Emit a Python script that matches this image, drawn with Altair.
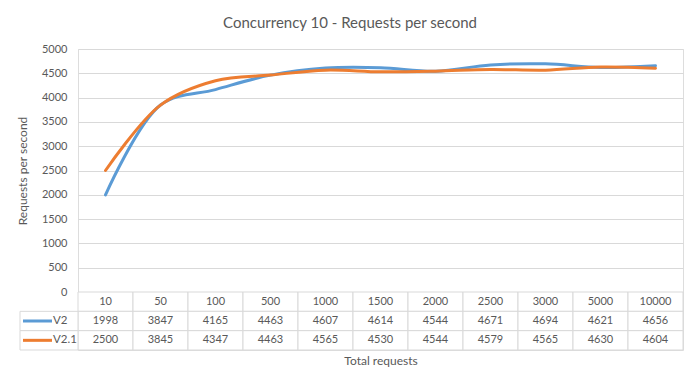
import altair as alt
import pandas as pd

categories = ["10", "50", "100", "500", "1000", "1500", "2000", "2500", "3000", "5000", "10000"]
v2 = [1998, 3847, 4165, 4463, 4607, 4614, 4544, 4671, 4694, 4621, 4656]
v21 = [2500, 3845, 4347, 4463, 4565, 4530, 4544, 4579, 4565, 4630, 4604]
series_names = ["V2", "V2.1"]
series_colors = ["#5B9BD5", "#ED7D31"]
y_ticks = list(range(0, 5001, 500))

GRID = "#D9D9D9"
TXT = "#595959"
FONT = "Lato"
W = 605
H = 243
TABLE_H = 58
N = len(categories)
LEGEND_COL = -58 / 55  # legend column width in column units

# ---- line chart ----
long = pd.DataFrame({
    "cat": categories * 2,
    "series": [series_names[0]] * N + [series_names[1]] * N,
    "value": v2 + v21,
})
color_scale = alt.Scale(domain=series_names, range=series_colors)

lines = alt.Chart(long).mark_line(
    strokeWidth=3, interpolate="catmull-rom", strokeCap="round"
).encode(
    x=alt.X("cat:N", sort=categories, scale=alt.Scale(type="point", padding=0.5), axis=None),
    y=alt.Y("value:Q", scale=alt.Scale(domain=[0, 5000], nice=False),
            axis=alt.Axis(values=y_ticks, format="d", title="Requests per second", domain=False,
                          ticks=False, gridColor=GRID, labelColor=TXT, labelFontSize=11,
                          labelPadding=11, titleColor=TXT, titleFontSize=12,
                          titleFontWeight="normal", titlePadding=12)),
    color=alt.Color("series:N", scale=color_scale, legend=None),
).properties(width=W, height=H)

# ---- data table ----
rows = ["header"] + series_names
recs = []
for i, c in enumerate(categories):
    recs.append({"row": "header", "x0": i, "x1": i + 1, "xc": i + 0.5, "label": c})
    recs.append({"row": series_names[0], "x0": i, "x1": i + 1, "xc": i + 0.5, "label": str(v2[i])})
    recs.append({"row": series_names[1], "x0": i, "x1": i + 1, "xc": i + 0.5, "label": str(v21[i])})
for s in series_names:
    recs.append({"row": s, "x0": LEGEND_COL, "x1": 0, "xc": None, "label": ""})
cells = pd.DataFrame(recs)
legend_df = pd.DataFrame({"row": series_names})

xscale = alt.Scale(domain=[0, N], nice=False, zero=False)
xaxis = alt.Axis(title="Total requests", labels=False, ticks=False, domain=False, grid=False,
                 titleColor=TXT, titleFontSize=12, titleFontWeight="normal", titlePadding=5)
yscale = alt.Scale(domain=rows, paddingInner=0, paddingOuter=0)

rects = alt.Chart(cells).mark_rect(fill="white", stroke=GRID, strokeWidth=1).encode(
    x=alt.X("x0:Q", scale=xscale, axis=xaxis),
    x2="x1:Q",
    y=alt.Y("row:N", scale=yscale, axis=None),
)
texts = alt.Chart(cells).transform_filter("datum.label != ''").mark_text(
    fontSize=11, color=TXT, font=FONT
).encode(
    x=alt.X("xc:Q", scale=xscale, axis=xaxis),
    y=alt.Y("row:N", scale=yscale, axis=None),
    text="label:N",
)
keys = alt.Chart(legend_df).mark_rule(strokeWidth=3).encode(
    x=alt.value(-55), x2=alt.value(-26),
    y=alt.Y("row:N", scale=yscale, axis=None, bandPosition=0.5),
    color=alt.Color("row:N", scale=color_scale, legend=None),
)
key_labels = alt.Chart(legend_df).mark_text(align="left", fontSize=11.5, color=TXT, font=FONT).encode(
    x=alt.value(-25),
    y=alt.Y("row:N", scale=yscale, axis=None),
    text="row:N",
)
table = alt.layer(rects, texts, keys, key_labels).properties(width=W, height=TABLE_H)

chart = alt.vconcat(lines, table, spacing=0, bounds="flush").properties(
    title=alt.TitleParams("Concurrency 10 - Requests per second", fontSize=15, color=TXT,
                          fontWeight="normal", font=FONT, anchor="middle", offset=12),
    padding={"left": 7, "top": 7, "right": 5, "bottom": 5},
).configure_view(stroke=None).configure(font=FONT)

chart.save("out.html", embed_options={"renderer": "svg", "actions": False})
